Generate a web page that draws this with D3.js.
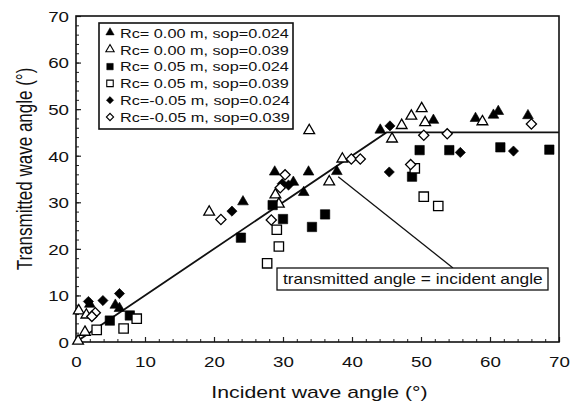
<!DOCTYPE html>
<html>
<head>
<meta charset="utf-8">
<script src="https://cdn.jsdelivr.net/npm/d3@7"></script>
<style>
  html, body { margin: 0; padding: 0; background: #fff; }
  svg { display: block; }
  text { font-family: "Liberation Sans", Arial, Helvetica, sans-serif; fill: #111; }
</style>
</head>
<body>
<svg id="chart" width="580" height="402"></svg>
<script>
// Axis ticks
const xTickValues = [0, 10, 20, 30, 40, 50, 60, 70];
const yTickValues = [0, 10, 20, 30, 40, 50, 60, 70];
const minorStep = 2;

// Legend labels, one per series
const seriesLabels = [
  "Rc= 0.00 m, sop=0.024",
  "Rc= 0.00 m, sop=0.039",
  "Rc= 0.05 m, sop=0.024",
  "Rc= 0.05 m, sop=0.039",
  "Rc=-0.05 m, sop=0.024",
  "Rc=-0.05 m, sop=0.039"
];

// Measurements: [incident angle, transmitted angle] in degrees
const rc000Sop024 = [
  [2.0, 7.9], [5.7, 7.7], [6.3, 7.0], [24.2, 29.9], [28.8, 36.3], [31.5, 34.1],
  [33.0, 31.9], [33.7, 36.3], [37.8, 36.4], [44.1, 45.3], [51.8, 47.4],
  [57.9, 47.8], [60.5, 48.5], [61.2, 49.3], [65.5, 48.4]
];
const rc000Sop039 = [
  [0.3, 0.0], [1.3, 1.9], [0.4, 6.5], [1.5, 5.6], [19.3, 27.7], [28.9, 31.4],
  [29.4, 29.4], [33.8, 45.2], [36.7, 34.2], [38.6, 39.1], [45.8, 43.4],
  [47.2, 46.3], [48.6, 48.3], [50.1, 49.9], [50.6, 46.9], [58.9, 47.1]
];
const rc005Sop024 = [
  [4.9, 4.6], [7.8, 5.7], [23.9, 22.4], [28.5, 29.4], [30.0, 26.4], [34.2, 24.7],
  [36.1, 27.4], [48.7, 35.5], [49.8, 41.2], [54.1, 41.2], [61.5, 41.8], [68.6, 41.3]
];
const rc005Sop039 = [
  [3.0, 2.6], [6.9, 2.9], [8.8, 5.0], [27.7, 16.9], [29.4, 20.5], [29.1, 24.1],
  [49.1, 37.3], [50.4, 31.2], [52.5, 29.2]
];
const rcNeg005Sop024 = [
  [1.8, 8.7], [3.9, 8.9], [6.3, 10.4], [22.6, 28.1], [29.9, 34.0], [30.8, 33.7],
  [45.5, 46.4], [45.4, 36.5], [55.7, 40.7], [63.4, 41.0]
];
const rcNeg005Sop039 = [
  [2.8, 6.3], [2.3, 5.5], [21.0, 26.3], [28.3, 26.2], [29.6, 33.1], [30.3, 35.9],
  [39.9, 39.3], [41.2, 39.3], [48.5, 38.1], [50.4, 44.4], [53.8, 44.7], [66.0, 46.8]
];

// Reference relation: transmitted = incident up to 45°, constant beyond
const fitLine = [[0, 0], [45, 45], [70, 45]];
const annotationText = "transmitted angle = incident angle";
const annotationTarget = [38, 35.5];

const seriesData = [rc000Sop024, rc000Sop039, rc005Sop024, rc005Sop039, rcNeg005Sop024, rcNeg005Sop039];
const seriesShapes = ["triangle", "triangle", "square", "square", "diamond", "diamond"];
const seriesFilled = [true, false, true, false, true, false];

// Layout
const W = 580, H = 402;
const plot = { left: 76, right: 559, top: 16, bottom: 342 };
const SX = 1.25; // horizontal glyph stretch used for all text

const svg = d3.select("#chart");
const x = d3.scaleLinear().domain([0, 70]).range([plot.left, plot.right]);
const y = d3.scaleLinear().domain([0, 70]).range([plot.bottom, plot.top]);

function symbolPath(shape, big) {
  if (shape === "triangle") return d3.symbol(d3.symbolTriangle, big ? 50 : 30)();
  if (shape === "square") return d3.symbol(d3.symbolSquare, big ? 88 : 42)();
  return d3.symbol(d3.symbolSquare, big ? 52 : 26)();
}
function symbolRotate(shape) { return shape === "diamond" ? " rotate(45)" : ""; }
function symbolOffset(shape, big) { return shape === "triangle" ? (big ? -1 : -0.5) : 0; }

// Minor ticks (inward)
const minorVals = d3.range(0, 70 + 0.001, minorStep);
svg.append("g").attr("transform", `translate(0,${plot.bottom})`)
  .call(d3.axisBottom(x).tickValues(minorVals).tickSize(-3).tickFormat(""))
  .call(g => g.select(".domain").remove())
  .call(g => g.selectAll("line").attr("stroke", "#222").attr("stroke-width", 1));
svg.append("g").attr("transform", `translate(${plot.left},0)`)
  .call(d3.axisLeft(y).tickValues(minorVals).tickSize(-3).tickFormat(""))
  .call(g => g.select(".domain").remove())
  .call(g => g.selectAll("line").attr("stroke", "#222").attr("stroke-width", 1));

// Major ticks with labels
const xAxis = svg.append("g").attr("transform", `translate(0,${plot.bottom})`)
  .call(d3.axisBottom(x).tickValues(xTickValues).tickSizeInner(-5).tickSizeOuter(0).tickPadding(0).tickFormat(d3.format("d")));
xAxis.select(".domain").remove();
xAxis.selectAll("line").attr("stroke", "#222").attr("stroke-width", 1.2);
xAxis.selectAll("text")
  .attr("y", 25).attr("dy", null)
  .attr("font-size", 15).attr("fill", "#111")
  .attr("font-family", "Liberation Sans, Arial, sans-serif")
  .attr("transform", `scale(${SX},1)`);

const yAxis = svg.append("g").attr("transform", `translate(${plot.left},0)`)
  .call(d3.axisLeft(y).tickValues(yTickValues).tickSizeInner(-5).tickSizeOuter(0).tickPadding(0).tickFormat(d3.format("d")));
yAxis.select(".domain").remove();
yAxis.selectAll("line").attr("stroke", "#222").attr("stroke-width", 1.2);
yAxis.selectAll("text")
  .attr("x", -7 / SX).attr("dy", "0.36em")
  .attr("font-size", 15).attr("fill", "#111")
  .attr("font-family", "Liberation Sans, Arial, sans-serif")
  .attr("transform", `scale(${SX},1)`);

// Plot frame
svg.append("rect")
  .attr("x", plot.left).attr("y", plot.top)
  .attr("width", plot.right - plot.left).attr("height", plot.bottom - plot.top)
  .attr("fill", "none").attr("stroke", "#111").attr("stroke-width", 1.6);

// Axis titles
svg.append("g").attr("transform", `translate(${(plot.left + plot.right) / 2 + 2},398) scale(${SX},1)`)
  .append("text").attr("text-anchor", "middle").attr("font-size", 17)
  .text("Incident wave angle (°)");
svg.append("g").attr("transform", `translate(32,169) scale(${SX},1) rotate(-90)`)
  .append("text").attr("text-anchor", "middle").attr("font-size", 17)
  .text("Transmitted wave angle (°)");

// Fitted relation
svg.append("path")
  .datum(fitLine)
  .attr("d", d3.line().x(d => x(d[0])).y(d => y(d[1])))
  .attr("fill", "none").attr("stroke", "#111").attr("stroke-width", 1.8);

// Annotation leader and label box
const box = { x: 277, y: 268, w: 271, h: 22 };
svg.append("line")
  .attr("x1", x(annotationTarget[0])).attr("y1", y(annotationTarget[1]))
  .attr("x2", 453).attr("y2", box.y)
  .attr("stroke", "#111").attr("stroke-width", 1.3);
svg.append("rect")
  .attr("x", box.x).attr("y", box.y).attr("width", box.w).attr("height", box.h)
  .attr("fill", "#fff").attr("stroke", "#111").attr("stroke-width", 1.3);
svg.append("g").attr("transform", `translate(${box.x + 6},${box.y + 16}) scale(1.24,1)`)
  .append("text").attr("font-size", 14).text(annotationText);

// Data markers
seriesData.forEach((data, i) => {
  const shape = seriesShapes[i];
  svg.append("g").selectAll("path")
    .data(data)
    .join("path")
    .attr("d", symbolPath(shape, true))
    .attr("transform", d => `translate(${x(d[0])},${y(d[1]) + symbolOffset(shape, true)})${symbolRotate(shape)}`)
    .attr("fill", seriesFilled[i] ? "#000" : "#fff")
    .attr("stroke", "#000")
    .attr("stroke-width", seriesFilled[i] ? 0.6 : 1.3);
});

// Legend
const legend = { x: 99, y: 23, w: 194, h: 106, row: 16.8 };
svg.append("rect")
  .attr("x", legend.x).attr("y", legend.y).attr("width", legend.w).attr("height", legend.h)
  .attr("fill", "#fff").attr("stroke", "#111").attr("stroke-width", 1.6);
const rows = svg.append("g").selectAll("g")
  .data(seriesLabels)
  .join("g")
  .attr("transform", (d, i) => `translate(${legend.x},${legend.y + 10 + i * legend.row})`);
rows.append("path")
  .attr("d", (d, i) => symbolPath(seriesShapes[i], false))
  .attr("transform", (d, i) => `translate(11,${symbolOffset(seriesShapes[i], false)})${symbolRotate(seriesShapes[i])}`)
  .attr("fill", (d, i) => seriesFilled[i] ? "#000" : "#fff")
  .attr("stroke", "#000")
  .attr("stroke-width", (d, i) => seriesFilled[i] ? 0.5 : 1.1);
rows.append("g").attr("transform", `translate(21,4.8) scale(${SX},1)`)
  .append("text").attr("font-size", 13).text(d => d);
</script>
</body>
</html>
